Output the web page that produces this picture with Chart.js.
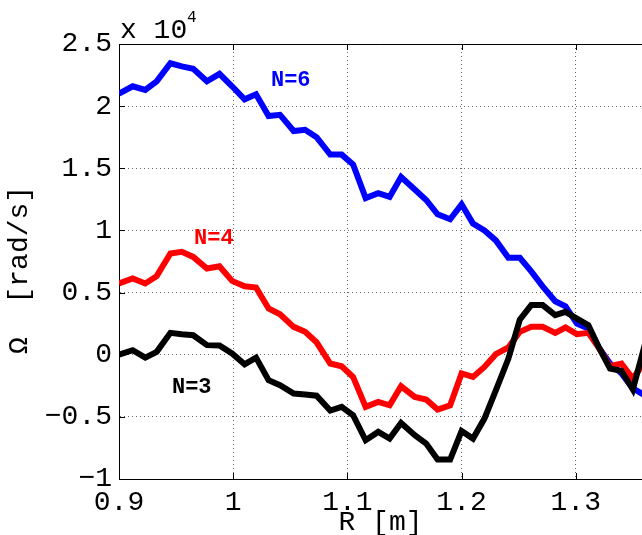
<!DOCTYPE html>
<html>
<head>
<meta charset="utf-8">
<script src="https://cdn.jsdelivr.net/npm/chart.js@4.4.1/dist/chart.umd.min.js"></script>
<style>
  html, body { margin: 0; padding: 0; background: #ffffff; }
  #wrap { width: 642px; height: 535px; }
</style>
</head>
<body>
<div id="wrap"><canvas id="c" width="642" height="535"></canvas></div>
<script>
// Major radius samples [m]
const radius = [0.900, 0.912, 0.923, 0.933, 0.945, 0.955, 0.965, 0.977, 0.988, 0.999,
                1.010, 1.020, 1.031, 1.041, 1.053, 1.063, 1.073, 1.085, 1.095, 1.105,
                1.116, 1.127, 1.137, 1.147, 1.159, 1.169, 1.179, 1.190, 1.200, 1.210,
                1.220, 1.230, 1.241, 1.251, 1.261, 1.271, 1.282, 1.291, 1.301, 1.311,
                1.320, 1.330, 1.340, 1.350, 1.361];

// Rotation frequency, in units of 1e4 rad/s
const omegaN6 = [2.10, 2.16, 2.13, 2.20, 2.345, 2.32, 2.30, 2.20, 2.26, 2.16,
                 2.055, 2.095, 1.92, 1.93, 1.80, 1.81, 1.75, 1.61, 1.61, 1.53,
                 1.26, 1.30, 1.27, 1.43, 1.33, 1.245, 1.13, 1.09, 1.21, 1.055,
                 1.00, 0.92, 0.78, 0.78, 0.67, 0.55, 0.43, 0.39, 0.25, 0.21,
                 0.06, -0.07, -0.15, -0.27, -0.33];
const omegaN4 = [0.573, 0.613, 0.573, 0.632, 0.815, 0.828, 0.787, 0.694, 0.712, 0.594,
                 0.551, 0.541, 0.372, 0.326, 0.224, 0.184, 0.10, -0.071, -0.093, -0.179,
                 -0.42, -0.38, -0.407, -0.254, -0.34, -0.361, -0.441, -0.407, -0.151, -0.179,
                 -0.098, 0.004, 0.058, 0.184, 0.224, 0.224, 0.176, 0.219, 0.165, 0.176,
                 0.058, -0.093, -0.071, -0.192, -0.05];
const omegaN3 = [0.0, 0.036, -0.023, 0.023, 0.176, 0.165, 0.157, 0.077, 0.074, 0.01,
                 -0.077, -0.023, -0.205, -0.245, -0.313, -0.32, -0.33, -0.45, -0.42, -0.487,
                 -0.688, -0.621, -0.675, -0.549, -0.648, -0.715, -0.844, -0.844, -0.614, -0.675,
                 -0.514, -0.286, -0.031, 0.283, 0.399, 0.399, 0.318, 0.345, 0.291, 0.238,
                 0.063, -0.111, -0.13, -0.28, 0.10];

const xTicks = [0.9, 1.0, 1.1, 1.2, 1.3];
const yTicks = [-1, -0.5, 0, 0.5, 1, 1.5, 2, 2.5];

const seriesNames = ['N=3', 'N=4', 'N=6'];
const seriesColors = ['#000000', '#ff0000', '#0000ff'];

// Where each mode-number label sits, in data coordinates (R, Omega)
const labelAnchors = [
  { r: 0.9637, w: -0.262 },
  { r: 0.983,  w: 0.938 },
  { r: 1.0504, w: 2.21 }
];

const MONO = '"Liberation Mono", "Courier New", monospace';
Chart.defaults.font.family = MONO;
Chart.defaults.color = '#000';

function fmtTick(v) {
  if (Math.abs(v) < 1e-9) return '0';
  const s = String(Math.round(Math.abs(v) * 100) / 100);
  return (v < 0 ? '\u2212' : '') + s;
}

const toPoints = (vals) => radius.map((r, i) => ({ x: r, y: vals[i] }));
const seriesValues = [omegaN3, omegaN4, omegaN6];

const frame = {
  id: 'frame',
  afterDraw(chart) {
    const { ctx, chartArea: a, scales: { x, y } } = chart;
    ctx.save();
    // top box edge
    ctx.strokeStyle = '#000';
    ctx.lineWidth = 1;
    ctx.beginPath();
    ctx.moveTo(a.left, a.top + 0.5);
    ctx.lineTo(a.right, a.top + 0.5);
    ctx.stroke();
    // inward tick marks
    ctx.beginPath();
    xTicks.forEach(v => {
      const px = Math.round(x.getPixelForValue(v)) + 0.5;
      ctx.moveTo(px, a.bottom); ctx.lineTo(px, a.bottom - 6);
      ctx.moveTo(px, a.top); ctx.lineTo(px, a.top + 6);
    });
    yTicks.forEach(v => {
      const py = Math.round(y.getPixelForValue(v)) + 0.5;
      ctx.moveTo(a.left, py); ctx.lineTo(a.left + 6, py);
    });
    ctx.stroke();

    // exponent note above the axis
    ctx.fillStyle = '#000';
    ctx.textAlign = 'left';
    ctx.textBaseline = 'alphabetic';
    ctx.font = '28px ' + MONO;
    ctx.fillText('x 10', a.left + 1, 38);
    ctx.font = '16px ' + MONO;
    ctx.fillText('4', a.left + 68, 22);

    // mode-number labels
    ctx.font = 'bold 22px ' + MONO;
    ctx.textAlign = 'center';
    ctx.textBaseline = 'middle';
    labelAnchors.forEach((p, i) => {
      ctx.fillStyle = seriesColors[i];
      ctx.fillText(seriesNames[i], x.getPixelForValue(p.r), y.getPixelForValue(p.w));
    });
    ctx.restore();
  }
};

new Chart(document.getElementById('c'), {
  type: 'line',
  data: {
    datasets: seriesValues.map((vals, i) => ({
      label: seriesNames[i],
      data: toPoints(vals),
      borderColor: seriesColors[i],
      backgroundColor: seriesColors[i],
      borderWidth: 6,
      pointRadius: 0,
      tension: 0,
      fill: false,
      borderJoinStyle: 'miter'
    }))
  },
  options: {
    responsive: false,
    animation: false,
    events: [],
    layout: { padding: { top: 44, left: 0, right: 0, bottom: 0 } },
    plugins: { legend: { display: false }, tooltip: { enabled: false } },
    scales: {
      x: {
        type: 'linear',
        min: 0.9,
        max: 1.358,
        afterBuildTicks: s => { s.ticks = xTicks.map(v => ({ value: v })); },
        afterFit: s => { s.height = 56; },
        ticks: { font: { size: 28 }, color: '#000', padding: 7, maxRotation: 0, autoSkip: false, callback: fmtTick },
        grid: { color: 'rgba(0,0,0,0.6)', lineWidth: 1, drawTicks: false },
        border: { color: '#000', width: 1, dash: [1, 3] },
        title: { display: true, text: 'R [m]', font: { size: 28, lineHeight: 0.86 }, color: '#000', padding: { top: 0, bottom: 0 } }
      },
      y: {
        type: 'linear',
        min: -1,
        max: 2.5,
        afterBuildTicks: s => { s.ticks = yTicks.map(v => ({ value: v })); },
        afterFit: s => { s.width = 119; },
        ticks: { font: { size: 28 }, color: '#000', padding: 7, autoSkip: false, callback: fmtTick },
        grid: { color: 'rgba(0,0,0,0.6)', lineWidth: 1, drawTicks: false },
        border: { color: '#000', width: 1, dash: [1, 3] },
        title: { display: true, text: '\u03A9  [rad/s] ', font: { size: 28, lineHeight: 1 }, color: '#000', padding: { top: 6, bottom: 0 } }
      }
    }
  },
  plugins: [frame]
});
</script>
</body>
</html>
